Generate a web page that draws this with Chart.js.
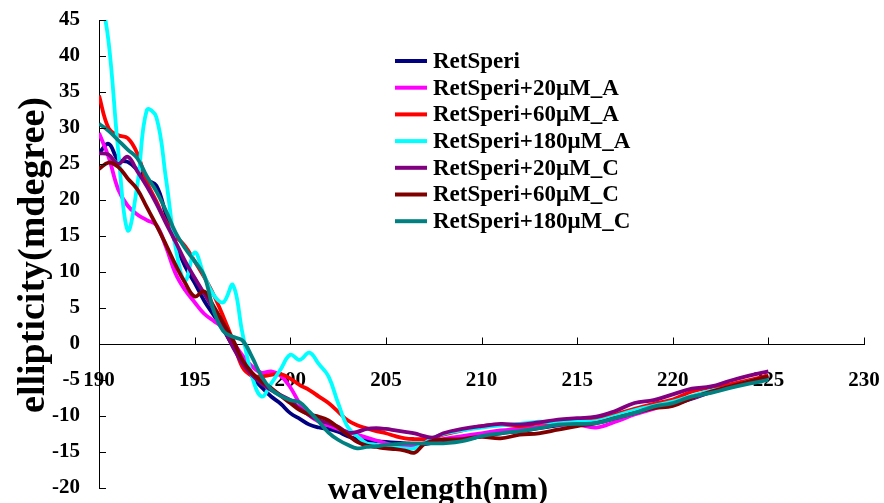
<!DOCTYPE html>
<html><head><meta charset="utf-8">
<script src="https://cdn.jsdelivr.net/npm/chart.js@4.4.1/dist/chart.umd.min.js"></script>
<style>html,body{margin:0;padding:0;background:#fff}canvas{display:block}</style>
</head><body>
<canvas id="c" width="884" height="503"></canvas>
<script>
const wavelengths = [190,190.5,191,191.5,192,192.5,193,193.5,194,194.5,195,195.5,196,196.5,197,197.5,198,198.5,199,199.5,200,200.5,201,201.5,202,202.5,203,203.5,204,204.5,205,205.5,206,206.5,207,207.5,208,209,210,211,212,213,214,215,216,217,218,219,220,221,222,223,224,225];

const retSperi = [26.5,27.8,25.6,25.3,24.2,22.8,22,18,14,10.8, 8.5,6,4,2,-0.3,-2.5,-4.5,-6,-7.3,-8.3, -9.6,-10.4,-11.2,-11.6,-11.8,-12.2,-12.8,-13.2,-13.4, -13.5,-13.6,-13.7,-13.8,-13.9,-13.9,-13.7,-13.6, -13.3,-12.8,-12.4,-12.1,-11.7,-11.3,-11,-10.9,-10.3,-9.6,-8.8,-8.4,-7.6,-6.7,-6,-5.3,-4.6];
const a20 = [29.3,26,21.5,19.2,18,17.2,16.5,13.5,9.8,7.5, 5.8,4.2,3.2,2.2,0.3,-1.6,-3.1,-4,-3.8,-4.4, -6,-8.3,-9.9,-10.8,-11.3,-11.8,-12.2,-12.6,-13, -13.4,-13.8,-14.1,-14.3,-14.2,-13.8,-13.5,-13.2, -12.8,-12.4,-12,-11.8,-11.5,-11.2,-11.2,-11.6,-10.8,-9.8,-9,-8.3,-7.5,-6.6,-6,-5.3,-4.5];
const a60 = [34.5,30,29,28.6,26.5,22.5,19.8,17,15,13.6, 11.5,9.3,6.8,3.8,0.5,-3.2,-4.4,-4.5,-4.3,-4.2, -4.8,-5.7,-6.4,-7.3,-8.2,-9.4,-10.6,-11.3,-11.7, -12.1,-12.4,-12.8,-13.1,-13.2,-13.2,-13,-12.6, -12,-11.4,-11.2,-11.4,-11,-10.8,-10.6,-10.5,-9.8,-9,-8.3,-7.7,-6.6,-6,-5.6,-5,-4.4];
const a180 = [50,42,27,15.8,22,32.5,31.5,23,13.5,8.8, 12.7,9.5,6.8,5.8,8.2,1.5,-4.5,-7.3,-5.5,-3.5, -1.5,-2.2,-1.2,-2.8,-4.5,-8.2,-11.5,-12.8,-13.8, -14,-14.2,-14.4,-14.5,-14.5,-13.8,-13,-12.5, -12,-11.6,-11.3,-11.1,-10.8,-10.9,-10.8,-10.7,-10,-9.2,-8.6,-8,-7.2,-6.5,-6,-5.2,-4.7];
const c20 = [26.5,26.3,25,26,24,21.9,19.5,16.8,14.2,11.5, 9.2,7,4.8,2.3,-0.4,-2.7,-4.3,-5.5,-6.4,-7.1, -7.8,-9,-9.9,-10.6,-11,-11.5,-12.3,-12.2,-11.8, -11.7,-11.8,-12,-12.2,-12.4,-12.8,-13,-12.4, -11.8,-11.4,-11.1,-11.2,-10.9,-10.5,-10.3,-10.1,-9.3,-8.2,-7.8,-7,-6.2,-5.9,-5.1,-4.4,-3.8];
const c60 = [24.3,25.2,24.6,23,21.5,19,16.5,13.8,11,8.5, 6.6,7.3,5.2,2.9,0.6,-2.2,-4,-5.2,-6.1,-7.2, -8.2,-9.2,-9.8,-10.1,-10.6,-11.6,-12.6,-13.6,-14.1, -14.3,-14.5,-14.6,-14.8,-15.1,-13.9,-13.4,-13.3, -13.2,-12.9,-13.1,-12.6,-12.4,-11.9,-11.4,-11,-10.3,-9.6,-8.9,-8.6,-7.5,-6.6,-5.9,-5.2,-4.5];
const c180 = [30.6,29.6,28.3,27,25.8,23.3,21.2,18.5,15.5,13.3, 11.5,9.5,4.6,1.8,1,0.5,-1.8,-4.5,-6.3,-7.2, -7.8,-8.1,-9.4,-10.8,-12.3,-13.3,-14,-14.5,-14.3, -14.2,-14,-13.9,-13.8,-13.8,-13.8,-13.8,-13.8, -13.5,-12.8,-12.4,-12.1,-11.7,-11.2,-11.1,-11,-10.3,-9.6,-8.7,-8.2,-7.3,-6.8,-6.1,-5.5,-5];

const seriesNames = ["RetSperi","RetSperi+20μM_A","RetSperi+60μM_A","RetSperi+180μM_A","RetSperi+20μM_C","RetSperi+60μM_C","RetSperi+180μM_C"];
const seriesValues = [retSperi, a20, a60, a180, c20, c60, c180];
const seriesColors = ["#000080","#FF00FF","#FF0000","#00FFFF","#800080","#800000","#008080"];
const xTitle = "wavelength(nm)";
const yTitle = "ellipticity(mdegree)";

const FAMILY = "'Liberation Serif','Times New Roman',serif";

const decor = {
  id: 'decor',
  afterDraw(chart) {
    const ctx = chart.ctx, xs = chart.scales.x, ys = chart.scales.y;
    const y0 = Math.round(ys.getPixelForValue(0)) + 0.5;
    ctx.save();
    ctx.strokeStyle = '#000'; ctx.lineWidth = 1;
    ctx.beginPath();
    ys.ticks.forEach(t => { const p = Math.round(ys.getPixelForValue(t.value)) + 0.5; ctx.moveTo(xs.left, p); ctx.lineTo(xs.left + 7, p); });
    xs.ticks.forEach(t => { const p = Math.round(xs.getPixelForValue(t.value)) + 0.5; ctx.moveTo(p, y0); ctx.lineTo(p, y0 - 7); });
    ctx.stroke();
    ctx.fillStyle = '#000';
    ctx.font = "bold 32px " + FAMILY;
    ctx.textAlign = 'center'; ctx.textBaseline = 'alphabetic';
    ctx.fillText(xTitle, 438, 499);
    ctx.save();
    ctx.translate(44, 255);
    ctx.rotate(-Math.PI / 2);
    ctx.font = "bold 38px " + FAMILY;
    ctx.fillText(yTitle, 0, 0);
    ctx.restore();
    // legend
    ctx.font = "bold 23px " + FAMILY;
    ctx.textAlign = 'left'; ctx.textBaseline = 'middle';
    seriesNames.forEach((n, i) => {
      const y = 61 + 26.7 * i;
      ctx.strokeStyle = seriesColors[i]; ctx.lineWidth = 4;
      ctx.beginPath(); ctx.moveTo(395, y); ctx.lineTo(427, y); ctx.stroke();
      ctx.fillText(n, 433, y + 1);
    });
    ctx.restore();
  }
};

const tickFont = {family: FAMILY, size: 21, weight: 'bold'};
function zeroPad(s) { s.paddingTop = 0; s.paddingBottom = 0; s.paddingLeft = 0; s.paddingRight = 0; }

new Chart(document.getElementById('c'), {
  type: 'line',
  data: {
    datasets: seriesValues.map((vals, i) => ({
      label: seriesNames[i],
      data: wavelengths.map((w, j) => ({x: w, y: vals[j]})),
      borderColor: seriesColors[i],
      backgroundColor: seriesColors[i],
      borderWidth: 3.8,
      pointRadius: 0,
      tension: 0.4,
      fill: false,
      order: seriesValues.length - 1 - i
    }))
  },
  options: {
    responsive: false,
    animation: false,
    events: [],
    layout: {padding: {top: 20, right: 20, bottom: 15, left: 0}},
    plugins: {legend: {display: false}, tooltip: {enabled: false}},
    scales: {
      x: {
        type: 'linear', position: {y: 0}, min: 190, max: 230,
        ticks: {stepSize: 5, autoSkip: false, maxRotation: 0, padding: 24, color: '#000', font: tickFont},
        grid: {drawOnChartArea: false, drawTicks: false},
        border: {display: true, color: '#000', width: 1},
        afterFit(s) { zeroPad(s); }
      },
      y: {
        type: 'linear', position: 'left', min: -20, max: 45,
        ticks: {stepSize: 5, autoSkip: false, padding: 19, color: '#000', font: tickFont},
        grid: {drawOnChartArea: false, drawTicks: false},
        border: {display: true, color: '#000', width: 1},
        afterFit(s) { s.width = 99; zeroPad(s); }
      }
    }
  },
  plugins: [decor]
});
</script>
</body></html>
